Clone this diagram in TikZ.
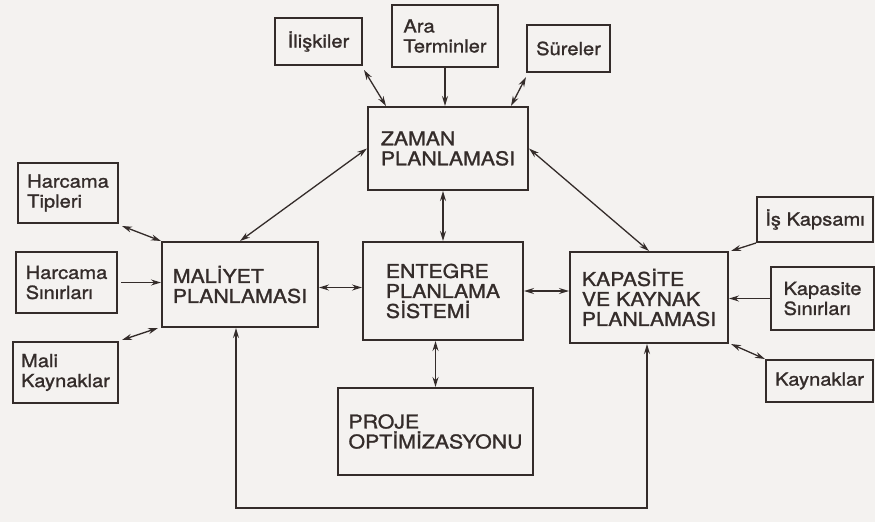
\documentclass[tikz,border=0pt]{standalone}
\usepackage{fontspec}
\setmainfont[FakeStretch=1.12,FakeBold=1.3]{TeX Gyre Heros}
\usetikzlibrary{arrows.meta}
\definecolor{ink}{RGB}{52,44,42}
\definecolor{paper}{RGB}{244,242,240}
\begin{document}
\begin{tikzpicture}[x=1pt,y=-1pt,
  >={Stealth[length=10pt,width=6pt]},
  box/.style 2 args={draw=ink, line width=2pt, minimum width=#1pt, minimum height=#2pt, inner sep=0pt, align=left, text=ink},
  big/.style={font=\fontsize{19}{20}\selectfont},
  small/.style={font=\fontsize{18}{20}\selectfont},
  con/.style={draw=ink, line width=1.3pt}]
\fill[paper] (0,0) rectangle (875,522);
\useasboundingbox (0,0) rectangle (875,522);

% top inputs
\node[box={87}{47},small] (ilis) at (318.5,41.5) {İlişkiler};
\node[box={106}{62},small] (ara) at (445,36) {Ara\\Terminler};
\node[box={83}{47},small] (sure) at (568.5,48.5) {Süreler};
% main boxes
\node[box={160}{83},big] (zaman) at (448,148.5) {ZAMAN\\PLANLAMASI};
\node[box={156}{85},big] (maliyet) at (240,284.5) {MALİYET\\PLANLAMASI};
\node[box={160}{98},big] (entegre) at (443,291) {ENTEGRE\\PLANLAMA\\SİSTEMİ};
\node[box={158}{91},big] (kapasite) at (649,297.5) {KAPASİTE\\VE KAYNAK\\PLANLAMASI};
\node[box={195}{87},big] (proje) at (435.5,431.5) {PROJE\\OPTİMİZASYONU};
% left inputs
\node[box={100}{60},small] (tipleri) at (68,193) {Harcama\\Tipleri};
\node[box={101}{61},small] (sinir) at (66.5,282.5) {Harcama\\Sınırları};
\node[box={105}{61},small] (mali) at (65.5,372.5) {Mali\\Kaynaklar};
% right inputs
\node[box={116}{45},small] (iskap) at (815,219.5) {İş Kapsamı};
\node[box={103}{63},small] (kapsin) at (822.5,298.5) {Kapasite\\Sınırları};
\node[box={107}{42},small] (kaynak) at (819.5,381) {Kaynaklar};

\coordinate (fb) at (440,508);

% connectors around ZAMAN
\draw[con,<->] ([xshift=1pt,yshift=-4pt]ilis.south east) -- ([xshift=19pt]zaman.north west);
\draw[con,->] (ara.south) -- (ara.south |- zaman.north);
\draw[con,<->] ([yshift=-4pt]sure.south west) -- ([xshift=-18pt]zaman.north east);
\draw[con,<->] (zaman.west) -- (maliyet.north);
\draw[con,<->] (zaman.east) -- (kapasite.north);
\draw[con,<->] (entegre.north |- zaman.south) -- (entegre.north);
% MALIYET
\draw[con,<->] ([xshift=3pt,yshift=-2pt]tipleri.south east) -- (maliyet.north west);
\draw[con,->] ([xshift=3pt]sinir.east) -- (sinir.east -| maliyet.west);
\draw[con,<->] ([xshift=3pt,yshift=1pt]mali.north east) -- ([xshift=-3pt]maliyet.south west);
\draw[con,<->] ([yshift=-3pt]maliyet.east) -- ([yshift=-3pt]maliyet.east -| entegre.west);
% ENTEGRE
\draw[con,<->] (entegre.east) -- (entegre.east -| kapasite.west);
\draw[con,<->] (proje.north |- entegre.south) -- (proje.north);
% KAPASITE
\draw[con,->] (iskap.south west) -- ([xshift=2pt]kapasite.north east);
\draw[con,->] (kapsin.west) -- (kapsin.west -| kapasite.east);
\draw[con,<->] ([xshift=2pt]kapasite.south east) -- (kaynak.north west);
% feedback loop
\draw[con,<->] ([xshift=-4pt]maliyet.south) -- ([xshift=-4pt]maliyet.south |- fb) -- ([xshift=-2pt]kapasite.south |- fb) -- ([xshift=-2pt]kapasite.south);
\end{tikzpicture}
\end{document}
